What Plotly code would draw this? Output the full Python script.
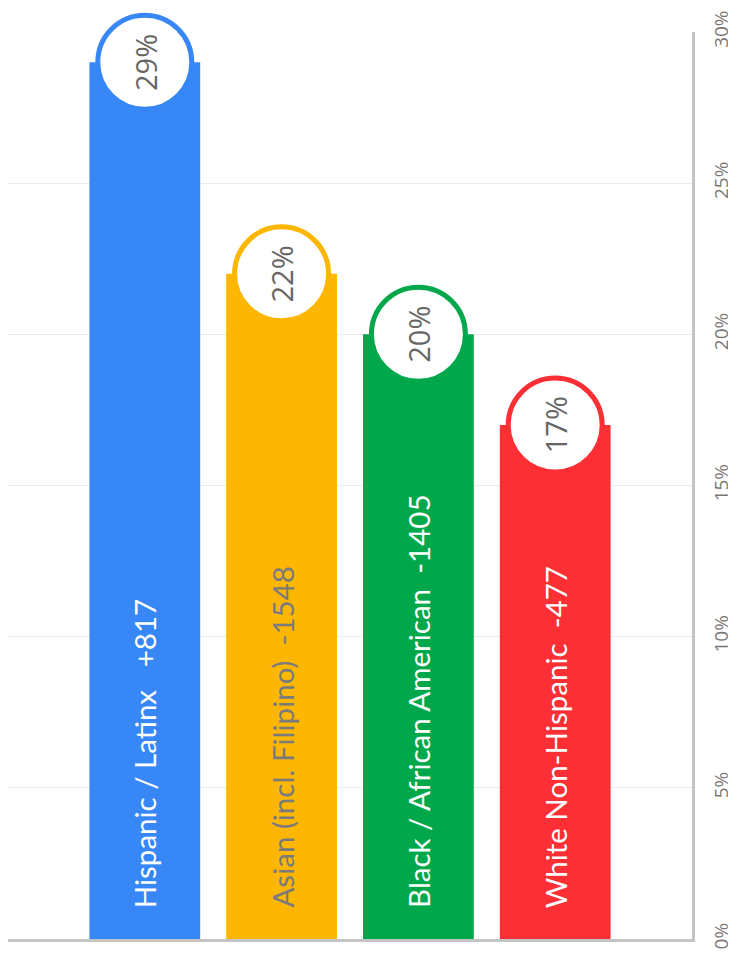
import plotly.graph_objects as go

categories = ["Hispanic / Latinx", "Asian (incl. Filipino)", "Black / African American", "White Non-Hispanic"]
changes = ["+817", "-1548", "-1405", "-477"]
shares = [29, 22, 20, 17]
gaps = [3, 2, 2, 2]
colors = ["#3887F6", "#FDB702", "#01A74B", "#FC2F34"]
label_colors = ["#FFFFFF", "#7A7A7A", "#FFFFFF", "#FFFFFF"]
tick_vals = [0, 5, 10, 15, 20, 25, 30]
tick_text = ["0%", "5%", "10%", "15%", "20%", "25%", "30%"]

FONT = "Lato"
xs = list(range(len(categories)))

fig = go.Figure()
fig.add_trace(go.Bar(x=xs, y=shares, marker=dict(color=colors, line=dict(width=0)),
                     width=0.81, hoverinfo="skip", showlegend=False))
fig.add_trace(go.Scatter(x=xs, y=shares, mode="markers",
                         marker=dict(size=94, color="white", line=dict(color=colors, width=5)),
                         hoverinfo="skip", showlegend=False, cliponaxis=False))

for i, (cat, ch, s, g) in enumerate(zip(categories, changes, shares, gaps)):
    fig.add_annotation(x=i, y=0, xref="x", yref="y", text=cat + "\u00a0" * g + ch,
                       textangle=-90, showarrow=False, xanchor="center", yanchor="bottom",
                       yshift=29, font=dict(family=FONT, size=29.5, color=label_colors[i]))
    fig.add_annotation(x=i, y=s, xref="x", yref="y", text=f"{s}%",
                       textangle=-90, showarrow=False, xanchor="center", yanchor="middle",
                       font=dict(family="Open Sans", size=29, color="#666666"))

fig.update_layout(
    width=736, height=955,
    margin=dict(l=0, r=52, t=24, b=24),
    paper_bgcolor="white", plot_bgcolor="white",
    xaxis=dict(range=[-1, 4], showticklabels=False, showgrid=False, zeroline=False,
               showline=True, linecolor="#C4C4C4", linewidth=3, ticks="", automargin=False),
    yaxis=dict(range=[0, 30], side="right", tickvals=tick_vals, ticktext=tick_text,
               tickangle=-90, tickfont=dict(family="Open Sans", size=19, color="#777777"),
               showgrid=True, gridcolor="#EBEBEB", gridwidth=1, zeroline=False,
               showline=True, linecolor="#C4C4C4", linewidth=3, ticklabelstandoff=10,
               automargin=False),
)

fig.write_html("out.html")
